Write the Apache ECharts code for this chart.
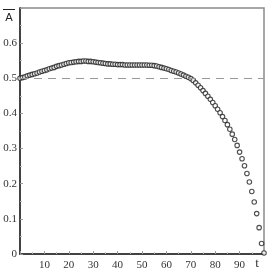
<!DOCTYPE html>
<html><head><meta charset="utf-8">
<script src="https://cdn.jsdelivr.net/npm/echarts@6/dist/echarts.min.js"></script>
<style>html,body{margin:0;padding:0;background:#fff}#c{width:273px;height:273px}</style>
</head><body><div id="c"></div>
<script>
var tValues = [];
for (var i = 0; i <= 100; i++) tValues.push(i);
var aValues = [
0.500,0.502,0.504,0.507,0.509,0.511,0.513,0.515,0.518,0.520,
0.522,0.524,0.527,0.529,0.531,0.534,0.536,0.538,0.540,0.542,
0.544,0.545,0.546,0.547,0.548,0.548,0.549,0.549,0.548,0.548,
0.547,0.546,0.545,0.544,0.543,0.542,0.541,0.541,0.540,0.540,
0.539,0.539,0.539,0.538,0.538,0.538,0.538,0.538,0.538,0.538,
0.538,0.538,0.538,0.537,0.537,0.536,0.535,0.533,0.531,0.529,
0.527,0.525,0.522,0.520,0.518,0.515,0.512,0.509,0.506,0.503,
0.499,0.494,0.487,0.480,0.473,0.465,0.457,0.449,0.440,0.431,
0.422,0.412,0.402,0.391,0.380,0.368,0.355,0.341,0.326,0.309,
0.290,0.271,0.251,0.229,0.205,0.178,0.148,0.115,0.075,0.030,
0.003
];
var refLevel = 0.5;
var xTicks = [10,20,30,40,50,60,70,80,90];
var yTicks = [0,0.1,0.2,0.3,0.4,0.5,0.6];

var data = tValues.map(function(t, i){ return [t, aValues[i]]; });
var chart = echarts.init(document.getElementById('c'), null, {renderer:'canvas'});
var serif = 'Liberation Serif';
chart.setOption({
  animation: false,
  grid: {left: 20, right: 9, top: 8, bottom: 19, show: true, borderColor: '#8a8a8a', borderWidth: 1.5},
  xAxis: {
    type: 'value', min: 0, max: 100, interval: 10,
    name: 't', nameLocation: 'end', nameGap: -7,
    nameTextStyle: {fontFamily: serif, fontSize: 13, color: '#333', align: 'center', verticalAlign: 'top', padding: [3,0,0,0]},
    axisLine: {show: true, lineStyle: {color: '#222', width: 1.5}},
    axisTick: {show: true, inside: true, length: 3, lineStyle: {color: '#999'}},
    minorTick: {show: true, splitNumber: 2, length: 2, lineStyle: {color: '#bbb'}},
    splitLine: {show: false},
    axisLabel: {fontFamily: serif, fontSize: 11, color: '#333', margin: 6,
      formatter: function(v){ return xTicks.indexOf(v) >= 0 ? String(v) : ''; }}
  },
  yAxis: {
    type: 'value', min: 0, max: 0.7, interval: 0.1,
    name: 'A', nameLocation: 'end', nameGap: -16,
    nameTextStyle: {fontFamily: 'DejaVu Sans', fontSize: 11, color: '#222', align: 'center', padding: [0,0,0,-22]},
    axisLine: {show: true, lineStyle: {color: '#222', width: 1.5}},
    axisTick: {show: true, inside: true, length: 3, lineStyle: {color: '#999'}},
    minorTick: {show: true, splitNumber: 2, length: 2, lineStyle: {color: '#bbb'}},
    splitLine: {show: false},
    axisLabel: {fontFamily: serif, fontSize: 11, color: '#333', margin: 3,
      formatter: function(v){
        for (var k = 0; k < yTicks.length; k++) if (Math.abs(yTicks[k]-v) < 1e-9) return String(yTicks[k]);
        return '';
      }}
  },
  graphic: [{type: 'line', shape: {x1: 3, y1: 9.5, x2: 15, y2: 9.5}, style: {stroke: '#222', lineWidth: 1}}],
  series: [{
    type: 'scatter', data: data, symbol: 'circle', symbolSize: 4.5,
    itemStyle: {color: '#fff', borderColor: '#222', borderWidth: 1.1},
    markLine: {silent: true, symbol: 'none', label: {show: false},
      lineStyle: {color: '#999', type: [8,6], width: 1.2},
      data: [{yAxis: refLevel}]}
  }]
});
</script></body></html>
